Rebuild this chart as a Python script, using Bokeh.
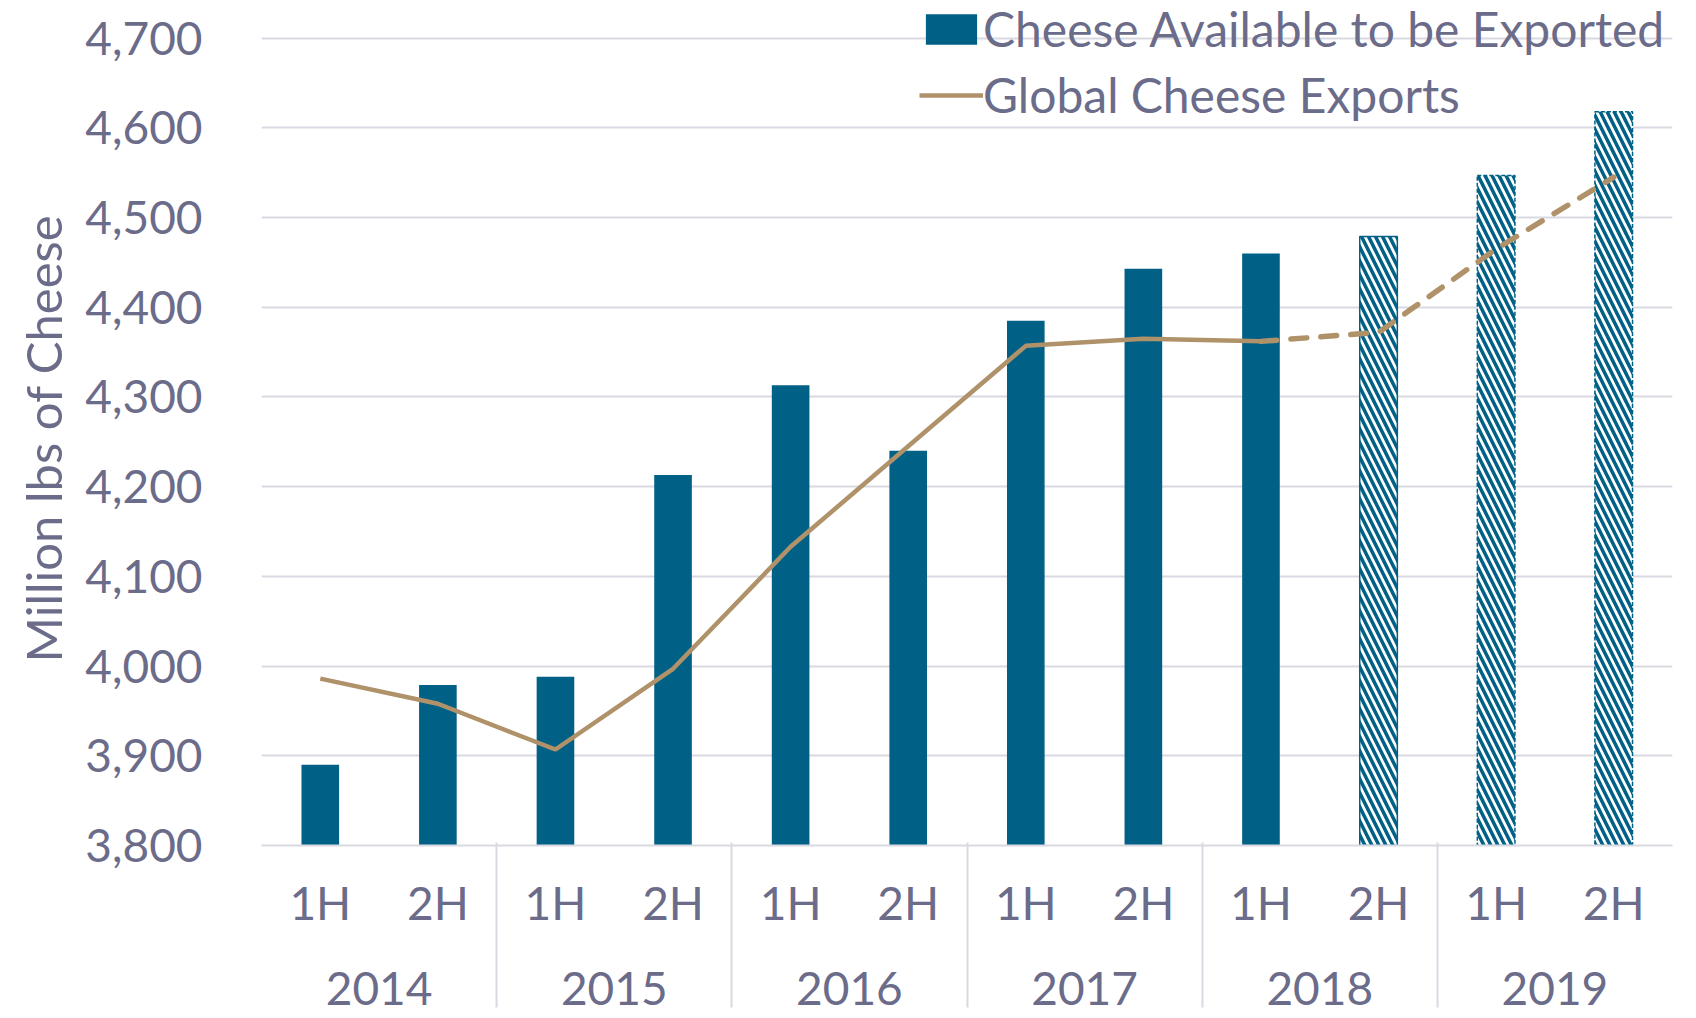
from bokeh.plotting import figure
from bokeh.models import (FactorRange, NumeralTickFormatter, FixedTicker, Legend, LegendItem,
                          ColumnDataSource, CategoricalAxis, Title)
from bokeh.embed import file_html
from bokeh.resources import INLINE

# ---- data ----
years = ["2014", "2015", "2016", "2017", "2018", "2019"]
halves = ["1H", "2H"]
available = [3890, 3979, 3988, 4213, 4313, 4240, 4385, 4443, 4460, 4479, 4547, 4618]
exports = [3986, 3958, 3907, 3997, 4133, 4245, 4357, 4365, 4362, 4372, 4465, 4545]
n_actual = 9          # first 9 half-years actual, rest projected
y_ticks = [3800, 3900, 4000, 4100, 4200, 4300, 4400, 4500, 4600, 4700]
y_top = 4742          # head-room above the top tick for the legend

factors = [(y, h) for y in years for h in halves]

BAR = "#006086"
LINE = "#B0926A"
TXT = "#6B6B8A"
GRID = "#D9D9E1"
FONT = "Lato"
FS = "46px"

p = figure(
    x_range=FactorRange(*factors, group_padding=0, range_padding=0),
    y_range=(y_ticks[0], y_top),
    width=1688, height=1010,
    output_backend="svg", toolbar_location=None,
    min_border_left=261, min_border_right=16, min_border_top=0, min_border_bottom=165,
)
p.outline_line_color = None

src_solid = ColumnDataSource(dict(x=factors[:n_actual], top=available[:n_actual]))
src_h1 = ColumnDataSource(dict(x=factors[n_actual:n_actual + 1], top=available[n_actual:n_actual + 1]))
src_h2 = ColumnDataSource(dict(x=factors[n_actual + 1:], top=available[n_actual + 1:]))

hatch = dict(fill_color="white", line_color=BAR, line_width=1.5,
             hatch_pattern="left_diagonal_line", hatch_color=BAR, hatch_scale=14, hatch_weight=3.5)
bars = p.vbar(x="x", top="top", bottom=y_ticks[0], width=0.32, source=src_solid,
              fill_color=BAR, line_color=None)
p.vbar(x="x", top="top", bottom=y_ticks[0], width=0.32, source=src_h1, **hatch)
p.vbar(x="x", top="top", bottom=y_ticks[0], width=0.32, source=src_h2, line_dash="4 2", **hatch)

line = p.line(x=factors[:n_actual], y=exports[:n_actual], line_color=LINE, line_width=4.5)
p.line(x=factors[n_actual - 1:], y=exports[n_actual - 1:], line_color=LINE, line_width=5.5,
       line_dash="16 14", line_cap="round")

# y axis
p.yaxis.ticker = FixedTicker(ticks=y_ticks)
p.yaxis.formatter = NumeralTickFormatter(format="0,0")
p.yaxis.axis_line_color = None
p.yaxis.major_tick_line_color = None
p.yaxis.minor_tick_line_color = None
p.yaxis.major_label_text_font = FONT
p.yaxis.major_label_text_font_size = FS
p.yaxis.major_label_text_color = TXT
p.yaxis.major_label_standoff = 53
p.add_layout(Title(text="Million lbs of Cheese", align="left", offset=183, standoff=21,
                   text_font=FONT, text_font_size="49px", text_font_style="normal",
                   text_color=TXT), "left")


def style_cat(ax, standoff):
    ax.axis_line_color = None
    ax.major_tick_line_color = None
    ax.minor_tick_line_color = None
    ax.major_tick_out = 0
    ax.major_tick_in = 0
    ax.major_label_text_font = FONT
    ax.major_label_text_font_size = FS
    ax.major_label_text_color = TXT
    ax.major_label_standoff = standoff
    ax.group_text_font = FONT
    ax.group_text_font_size = FS
    ax.group_text_font_style = "normal"
    ax.group_text_color = TXT
    ax.separator_line_color = None


# x axis: row of halves (first), row of years (second)
ax1 = p.xaxis[0]
style_cat(ax1, 29)
ax1.axis_line_color = GRID
ax1.axis_line_width = 2
ax1.group_text_color = None

ax2 = CategoricalAxis()
style_cat(ax2, 39)
ax2.major_label_text_color = None
p.add_layout(ax2, "below")

# box lines at the year boundaries (ticks drawn back up through both label rows)
bounds = [str(i) for i in range(len(years) + 1)]
p.extra_x_ranges = {"box": FactorRange(*bounds, range_padding=-0.5, range_padding_units="absolute")}
ax3 = CategoricalAxis(x_range_name="box")
ax3.axis_line_color = None
ax3.major_tick_out = 0
ax3.major_tick_in = 165
ax3.major_tick_line_color = GRID
ax3.major_tick_line_width = 2
ax3.minor_tick_line_color = None
ax3.major_label_text_color = None
ax3.major_label_text_font_size = "0px"
ax3.major_label_standoff = 0
p.add_layout(ax3, "below")

p.xgrid.grid_line_color = None
p.ygrid.grid_line_color = GRID
p.ygrid.grid_line_width = 2

legend = Legend(
    items=[LegendItem(label="Cheese Available to be Exported", renderers=[bars]),
           LegendItem(label="Global Cheese Exports", renderers=[line])],
    location=(658, 722),
    label_text_font=FONT, label_text_font_size="48px", label_text_color=TXT,
    glyph_width=64, glyph_height=38, label_standoff=0, spacing=9,
    padding=0, margin=0, border_line_color=None, background_fill_alpha=0,
)
p.add_layout(legend)

open("out.html", "w").write(file_html(p, INLINE))
